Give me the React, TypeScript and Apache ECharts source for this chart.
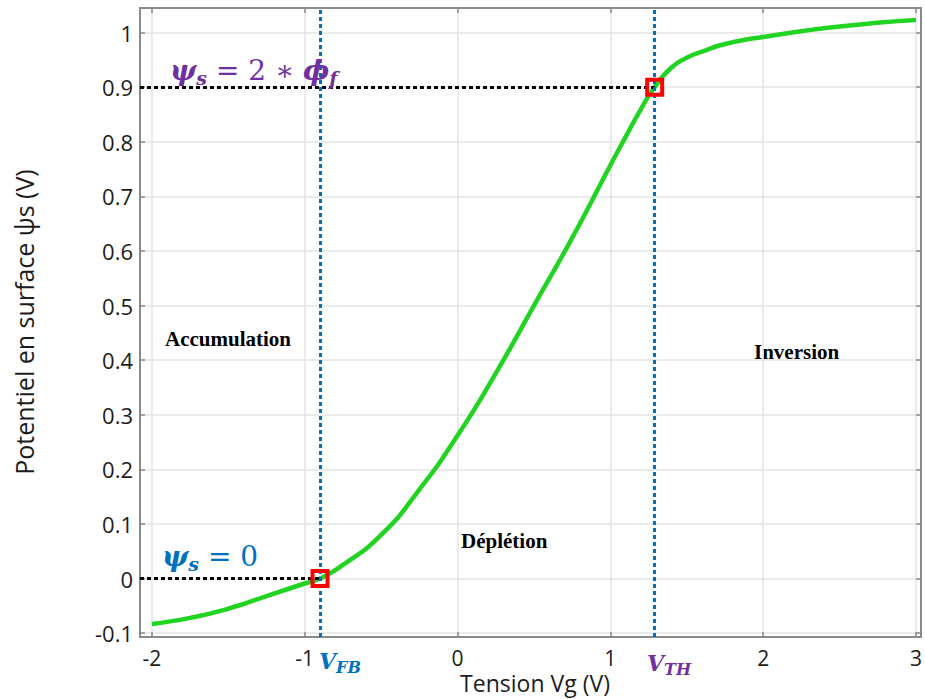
import React, { useEffect, useRef } from "react";
import * as echarts from "echarts";

// ---- data ----
const gateVoltage = [-2, -1.75, -1.5, -1.25, -1, -0.9, -0.75, -0.5, -0.25, 0, 0.25, 0.5, 0.75, 1, 1.1, 1.2, 1.29, 1.4, 1.5, 1.6, 1.75, 2, 2.5, 3];
const surfacePotential = [-0.083, -0.072, -0.055, -0.032, -0.009, 0, 0.025, 0.08, 0.163, 0.262, 0.376, 0.5, 0.624, 0.757, 0.809, 0.86, 0.9, 0.936, 0.954, 0.965, 0.979, 0.992, 1.011, 1.023];
const xTicks = [-2, -1, 0, 1, 2, 3];
const yTicks = [-0.1, 0, 0.1, 0.2, 0.3, 0.4, 0.5, 0.6, 0.7, 0.8, 0.9, 1];
const VFB = -0.9;
const VTH = 1.29;
const PSI_FB = 0;
const PSI_TH = 0.9;
const X_MIN = -2.078;
const X_MAX = 3.033;
const Y_MIN = -0.107;
const Y_MAX = 1.045;

const BLUE = "#0070C0";
const PURPLE = "#7030A0";
const GREEN = "#22d422";
const AXIS_GRAY = "#8a8a8a";
const GRID_GRAY = "#e4e4e4";
const LABEL = "#1c1c1c";

const fmt = (v: number) => {
  const r = Math.round(v * 10) / 10;
  return r === 0 ? "0" : String(r);
};

const mathRich = (color: string, big: number, small: number) => ({
  v: { fill: color, fontFamily: "DejaVu Serif", fontStyle: "italic", fontWeight: "bold", fontSize: big, lineHeight: big + 6 },
  s: { fill: color, fontFamily: "DejaVu Serif", fontStyle: "italic", fontWeight: "bold", fontSize: small, lineHeight: small + 1, verticalAlign: "bottom" },
  n: { fill: color, fontFamily: "DejaVu Serif", fontSize: big, lineHeight: big + 6 },
});

export default function App() {
  const ref = useRef<HTMLDivElement>(null);
  useEffect(() => {
    const chart = echarts.init(ref.current!, null, { renderer: "svg" });
    const dotted = { type: [4, 3] as any, width: 3 };
    const option: any = {
      animation: false,
      backgroundColor: "#ffffff",
      grid: { left: 140, top: 8, right: 3, bottom: 62, containLabel: false },
      xAxis: [
        {
          type: "value", min: X_MIN, max: X_MAX, position: "bottom",
          axisLine: { show: true, onZero: false, lineStyle: { color: AXIS_GRAY, width: 2 } },
          axisTick: { show: true, inside: true, length: 5, customValues: xTicks, lineStyle: { color: AXIS_GRAY, width: 1.5 } },
          axisLabel: { customValues: xTicks, formatter: fmt, color: LABEL, fontSize: 21, lineHeight: 18, fontFamily: "Open Sans", margin: 12 },
          splitLine: { show: true, lineStyle: { color: GRID_GRAY, width: 1.5 } },
        },
        {
          type: "value", min: X_MIN, max: X_MAX, position: "top",
          axisLine: { show: true, onZero: false, lineStyle: { color: AXIS_GRAY, width: 2 } },
          axisTick: { show: true, inside: true, length: 5, customValues: xTicks, lineStyle: { color: AXIS_GRAY, width: 1.5 } },
          axisLabel: { show: false },
          splitLine: { show: false },
        },
      ],
      yAxis: [
        {
          type: "value", min: Y_MIN, max: Y_MAX, position: "left",
          axisLine: { show: true, onZero: false, lineStyle: { color: AXIS_GRAY, width: 2 } },
          axisTick: { show: true, inside: true, length: 5, customValues: yTicks, lineStyle: { color: AXIS_GRAY, width: 1.5 } },
          axisLabel: { customValues: yTicks, formatter: fmt, color: LABEL, fontSize: 22, fontFamily: "Open Sans", margin: 7 },
          splitLine: { show: true, lineStyle: { color: GRID_GRAY, width: 1.5 } },
        },
        {
          type: "value", min: Y_MIN, max: Y_MAX, position: "right",
          axisLine: { show: true, onZero: false, lineStyle: { color: AXIS_GRAY, width: 2 } },
          axisTick: { show: true, inside: true, length: 5, customValues: yTicks, lineStyle: { color: AXIS_GRAY, width: 1.5 } },
          axisLabel: { show: false },
          splitLine: { show: false },
        },
      ],
      series: [
        {
          name: "psi_s",
          type: "line",
          xAxisIndex: 0, yAxisIndex: 0,
          data: gateVoltage.map((x, i) => [x, surfacePotential[i]]),
          smooth: 0.55,
          showSymbol: false,
          lineStyle: { color: GREEN, width: 4.5 },
          z: 2,
        },
        {
          name: "guides",
          type: "line",
          data: [],
          z: 3,
          markLine: {
            silent: true,
            symbol: "none",
            label: { show: false },
            data: [
              [{ coord: [X_MIN, PSI_TH], lineStyle: { color: "#000", ...dotted } }, { coord: [VTH, PSI_TH] }],
              [{ coord: [X_MIN, PSI_FB], lineStyle: { color: "#000", ...dotted } }, { coord: [VFB, PSI_FB] }],
              { xAxis: VFB, lineStyle: { color: BLUE, ...dotted } },
              { xAxis: VTH, lineStyle: { color: BLUE, ...dotted } },
            ],
          },
        },
        {
          name: "points",
          type: "line",
          data: [],
          z: 4,
          markPoint: {
            silent: true,
            symbol: "rect",
            symbolSize: 15,
            label: { show: false },
            itemStyle: { color: "rgba(0,0,0,0)", borderColor: "#ff0000", borderWidth: 4 },
            data: [{ coord: [VFB, PSI_FB] }, { coord: [VTH, PSI_TH] }],
          },
        },
      ],
      graphic: [
        {
          type: "text", x: 24, y: 322, rotation: Math.PI / 2,
          style: { text: "Potentiel en surface ψs (V)", fontFamily: "Open Sans", fontSize: 25, fill: LABEL, align: "center", verticalAlign: "middle" },
        },
        {
          type: "text", x: 535, y: 683,
          style: { text: "Tension Vg (V)", fontFamily: "Open Sans", fontSize: 23, lineHeight: 24, fill: LABEL, align: "center", verticalAlign: "middle" },
        },
        {
          type: "text", x: 165, y: 339,
          style: { text: "Accumulation", fontFamily: "Liberation Serif", fontWeight: "bold", fontSize: 21, fill: "#000", align: "left", verticalAlign: "middle" },
        },
        {
          type: "text", x: 461, y: 541,
          style: { text: "Déplétion", fontFamily: "Liberation Serif", fontWeight: "bold", fontSize: 21, fill: "#000", align: "left", verticalAlign: "middle" },
        },
        {
          type: "text", x: 754, y: 352,
          style: { text: "Inversion", fontFamily: "Liberation Serif", fontWeight: "bold", fontSize: 21, fill: "#000", align: "left", verticalAlign: "middle" },
        },
        {
          type: "text", x: 170, y: 70, z: 10,
          style: { text: "{v|ψ}{s|s}{n| = 2 ∗ }{v|ϕ}{s|f}", rich: mathRich(PURPLE, 28, 19), align: "left", verticalAlign: "middle" },
        },
        {
          type: "text", x: 162, y: 556, z: 10,
          style: { text: "{v|ψ}{s|s}{n| = 0}", rich: mathRich(BLUE, 28, 19), align: "left", verticalAlign: "middle" },
        },
        {
          type: "text", x: 319, y: 661, z: 10,
          style: { text: "{v|V}{s|FB}", rich: mathRich(BLUE, 22, 16), align: "left", verticalAlign: "middle" },
        },
        {
          type: "text", x: 647, y: 663, z: 10,
          style: { text: "{v|V}{s|TH}", rich: mathRich(PURPLE, 22, 16), align: "left", verticalAlign: "middle" },
        },
      ],
    };
    chart.setOption(option);
    return () => chart.dispose();
  }, []);
  return <div ref={ref} style={{ position: "fixed", left: 0, top: 0, width: 925, height: 699 }} />;
}
